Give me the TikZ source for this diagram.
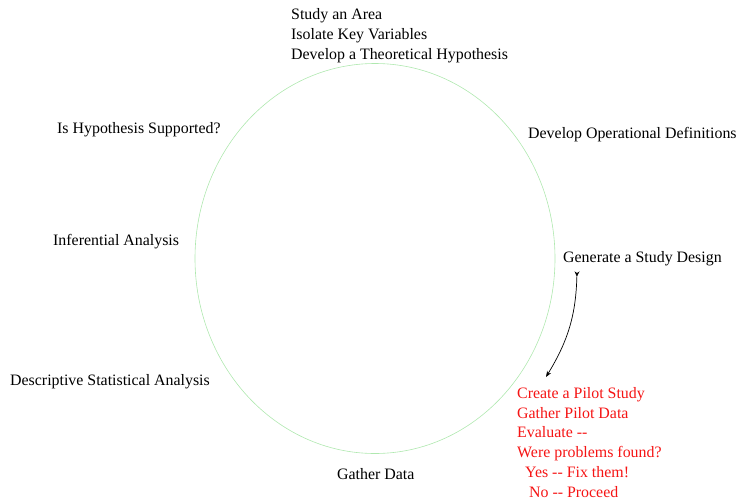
\documentclass[tikz,border=0pt]{standalone}
\usepackage{fontspec}
\setmainfont{Liberation Serif}
\usetikzlibrary{arrows.meta}
\definecolor{ringgreen}{RGB}{175,232,175}
\definecolor{pilotred}{RGB}{245,20,20}

\begin{document}
\begin{tikzpicture}[x=1pt,y=-1pt,
  step label/.style={anchor=west,inner sep=0pt,font=\fontsize{15.9}{19.8}\selectfont},
  block label/.style={anchor=north west,inner sep=0pt,align=left,font=\fontsize{15.9}{19.8}\selectfont}]
				  \useasboundingbox (0,0) rectangle (745,499);
				  %CYCLE
				  \draw[ringgreen,line width=0.6pt] (375,258.5) ellipse (180 and 195);
				  %STEPS
				  \node[block label] (area) at (291,8.5) {Study an Area\\Isolate Key Variables\\Develop a Theoretical Hypothesis};
				  \node[step label] (oper) at (528,135) {Develop Operational Definitions};
				  \node[step label] (design) at (563,259) {Generate a Study Design};
				  \node[block label,text=pilotred] (pilot) at (517,387) {Create a Pilot Study\\Gather Pilot Data\\Evaluate -{}-\\Were problems found?\\\ \ Yes -{}- Fix them!\\\ \ \ No -{}- Proceed};
				  \node[step label] (gather) at (337,474) {Gather Data};
				  \node[step label] (descr) at (10,382) {Descriptive Statistical Analysis};
				  \node[step label] (infer) at (53,242) {Inferential Analysis};
				  \node[step label] (supp) at (57,130) {Is Hypothesis Supported?};
				  %ARROW design -> pilot
				  \draw[{Stealth[reversed,length=5pt,width=5pt]}-{Stealth[length=6pt,width=4.5pt]},line width=0.7pt]
				    ([xshift=14pt,yshift=-5pt]design.south west) to[bend left=15] ([xshift=29pt,yshift=10pt]pilot.north west);
\end{tikzpicture}
\end{document}
